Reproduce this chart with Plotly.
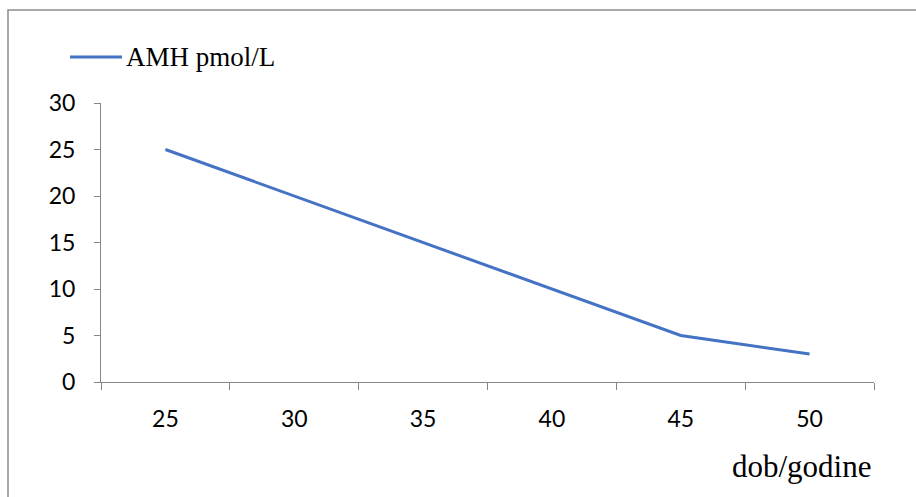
import plotly.graph_objects as go

categories = ["25", "30", "35", "40", "45", "50"]
amh_values = [25, 20, 15, 10, 5, 3]
y_ticks = [0, 5, 10, 15, 20, 25, 30]
series_name = "AMH pmol/L"
x_title = "dob/godine"

W, H = 916, 497
L, R, T, B = 101, 42, 103, 115
pw, ph = W - L - R, H - T - B

line_color = "#4472C4"

fig = go.Figure()
fig.add_trace(go.Scatter(
    x=categories, y=amh_values, mode="lines", name=series_name,
    line=dict(color=line_color, width=3),
    showlegend=False,
))

axis_color = "#868686"
tick_font = dict(family="Lato, Open Sans, sans-serif", size=23, color="#000000")
serif = "Liberation Serif, Times New Roman, serif"

def px_x(p):
    return (p - L) / pw

def px_y(p):
    return (T + ph - p) / ph

legend_y_px = 57

fig.update_layout(
    width=W, height=H,
    margin=dict(l=L, r=R, t=T, b=B, pad=0),
    paper_bgcolor="white", plot_bgcolor="white",
    showlegend=False,
    xaxis=dict(
        type="category", range=[-0.5, 5.5],
        showline=True, linecolor=axis_color, linewidth=1,
        ticks="outside", ticklen=7, tickcolor=axis_color, tickwidth=1,
        tickson="boundaries",
        showgrid=False, zeroline=False,
        tickfont=tick_font, ticklabelstandoff=16,
    ),
    yaxis=dict(
        range=[0, 30], tickvals=y_ticks,
        showline=True, linecolor=axis_color, linewidth=1,
        ticks="outside", ticklen=6, tickcolor=axis_color, tickwidth=1,
        showgrid=False, zeroline=False,
        tickfont=tick_font, ticklabelstandoff=14,
    ),
    annotations=[
        dict(
            text=x_title, xref="paper", yref="paper",
            x=px_x(874), xanchor="right",
            y=px_y(467), yanchor="middle",
            showarrow=False,
            font=dict(family=serif, size=31, color="#000000"),
        ),
        dict(
            text=series_name, xref="paper", yref="paper",
            x=px_x(124), xanchor="left",
            y=px_y(legend_y_px), yanchor="middle",
            showarrow=False,
            font=dict(family=serif, size=27, color="#000000"),
        ),
    ],
    shapes=[
        dict(
            type="rect", xref="paper", yref="paper",
            x0=px_x(8), x1=px_x(930),
            y0=px_y(520), y1=px_y(10),
            line=dict(color="#8c8c8c", width=1.5), fillcolor="rgba(0,0,0,0)",
            layer="below",
        ),
        dict(
            type="line", xref="paper", yref="paper",
            x0=px_x(70), x1=px_x(122),
            y0=px_y(legend_y_px), y1=px_y(legend_y_px),
            line=dict(color=line_color, width=3),
        ),
    ],
)

fig.write_html("out.html")
